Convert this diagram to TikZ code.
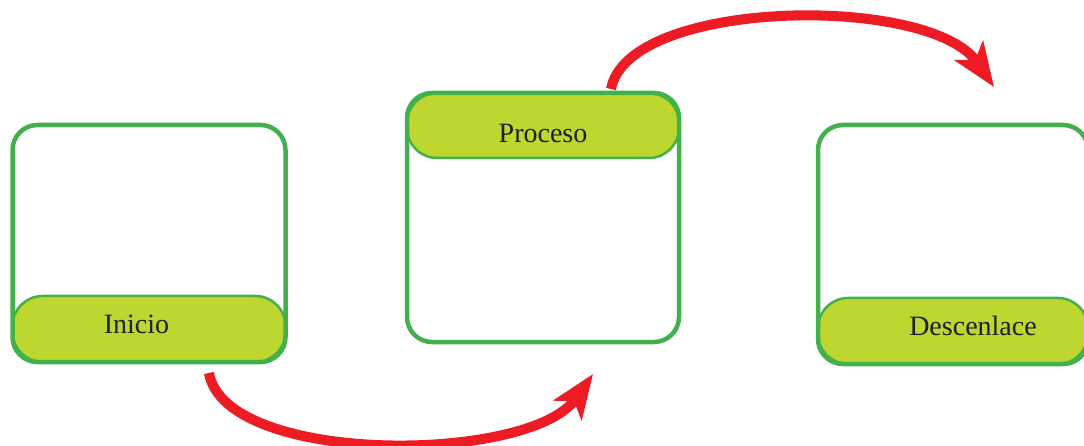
\documentclass[tikz,border=0pt]{standalone}
\usepackage{fontspec}
\setmainfont{Liberation Serif}
\usetikzlibrary{arrows.meta}
\definecolor{bgreen}{HTML}{43B14B}
\definecolor{lime}{HTML}{BED630}
\definecolor{ared}{HTML}{ED1C24}
\tikzset{
 box/.style={draw=bgreen, line width=4.5pt, rounded corners=25pt, inner sep=0pt},
 band/.style={draw=bgreen, fill=lime, line width=2.5pt, rounded corners=30pt, inner sep=0pt},
 lbl/.style={font=\fontsize{28}{32}\selectfont, text=black!88, anchor=base, inner sep=0pt},
 flow/.style={draw=ared, line width=10pt, -{Stealth[length=44pt, width=34pt, inset=11pt]}}
}
\begin{document}
\begin{tikzpicture}[x=1pt,y=-1pt]
\useasboundingbox (0,0) rectangle (1084,446);
\clip (0,0) rectangle (1084,446);
% bands
\node[band, minimum width=273pt, minimum height=66pt] (l1) at (149,329) {};
\node[band, minimum width=272pt, minimum height=65pt] (l2) at (543,125.5) {};
\node[band, minimum width=270pt, minimum height=66pt] (l3) at (953,331) {};
% boxes
\node[box, minimum width=273pt, minimum height=237pt] (b1) at (149,243.5) {};
\node[box, minimum width=272pt, minimum height=249pt] (b2) at (543,217.5) {};
\node[box, minimum width=270pt, minimum height=239pt] (b3) at (953,244.5) {};
% labels
\node[lbl] (t1) at (136.5,334) {Inicio};
\node[lbl] (t2) at (543,143) {Proceso};
\node[lbl] (t3) at (973,335) {Descenlace};
% arrows
\coordinate (a1s) at (209,373);
\coordinate (a1e) at (593,374);
\coordinate (a2s) at (611,89);
\coordinate (a2e) at (994,87);
\draw[flow] (a1s) .. controls (225,466) and (530,464) .. (a1e);
\draw[flow] (a2s) .. controls (628,-2) and (930,-6) .. (a2e);
\end{tikzpicture}
\end{document}
